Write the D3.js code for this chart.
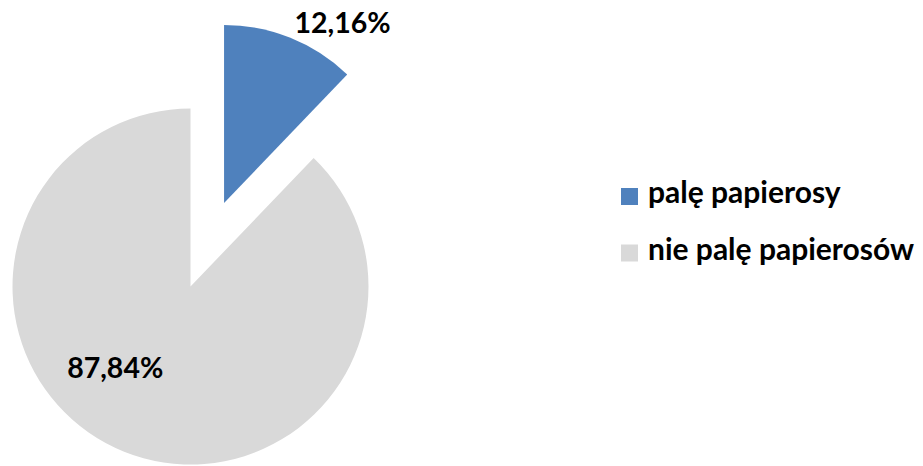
<!DOCTYPE html>
<html>
<head>
<meta charset="utf-8">
<script src="https://cdn.jsdelivr.net/npm/d3@7"></script>
<style>
  body { margin: 0; background: #fff; }
  svg text { font-family: Lato, "Open Sans", sans-serif; font-weight: bold; fill: #000; }
</style>
</head>
<body>
<svg id="viz" width="923" height="466"></svg>
<script>
var categories = ["palę papierosy", "nie palę papierosów"];
var values = [12.16, 87.84];
var labels = ["12,16%", "87,84%"];
var colors = ["#4F81BD", "#D9D9D9"];
var explode = [90, 0];

var width = 923, height = 466;
var cx = 190.5, cy = 286.5, radius = 178;

var svg = d3.select("#viz");
var g = svg.append("g").attr("transform", "translate(" + cx + "," + cy + ")");

var pie = d3.pie().sort(null).value(function (d) { return d; });
var arcs = pie(values);
var arc = d3.arc().innerRadius(0).outerRadius(radius);

function offset(a, dist) {
  var mid = (a.startAngle + a.endAngle) / 2;
  return [Math.sin(mid) * dist, -Math.cos(mid) * dist];
}

g.selectAll("path")
  .data(arcs)
  .enter()
  .append("path")
  .attr("d", arc)
  .attr("fill", function (d, i) { return colors[i]; })
  .attr("transform", function (d, i) {
    var o = offset(d, explode[i]);
    return "translate(" + o[0] + "," + o[1] + ")";
  });

// label placement: angle (deg, from top, clockwise) and distance from slice apex
var labelAngle = [33.3, 223.2];
var labelDist = [216, 110];

g.selectAll("text.lbl")
  .data(arcs)
  .enter()
  .append("text")
  .attr("class", "lbl")
  .attr("text-anchor", "middle")
  .attr("dominant-baseline", "central")
  .style("font-size", "28.5px")
  .attr("x", function (d, i) {
    var o = offset(d, explode[i]);
    return o[0] + Math.sin(labelAngle[i] * Math.PI / 180) * labelDist[i];
  })
  .attr("y", function (d, i) {
    var o = offset(d, explode[i]);
    return o[1] - Math.cos(labelAngle[i] * Math.PI / 180) * labelDist[i];
  })
  .text(function (d, i) { return labels[i]; });

// legend
var legendY = d3.scalePoint().domain(categories).range([196.5, 253]);
var legend = svg.append("g").attr("class", "legend");
var item = legend.selectAll("g")
  .data(categories)
  .enter()
  .append("g")
  .attr("transform", function (d) { return "translate(621," + legendY(d) + ")"; });

item.append("rect")
  .attr("x", 0)
  .attr("y", -8.5)
  .attr("width", 17)
  .attr("height", 17)
  .attr("fill", function (d, i) { return colors[i]; });

item.append("text")
  .attr("x", 27)
  .attr("y", 6.5)
  .style("font-size", "30px")
  .text(function (d) { return d; });
</script>
</body>
</html>
